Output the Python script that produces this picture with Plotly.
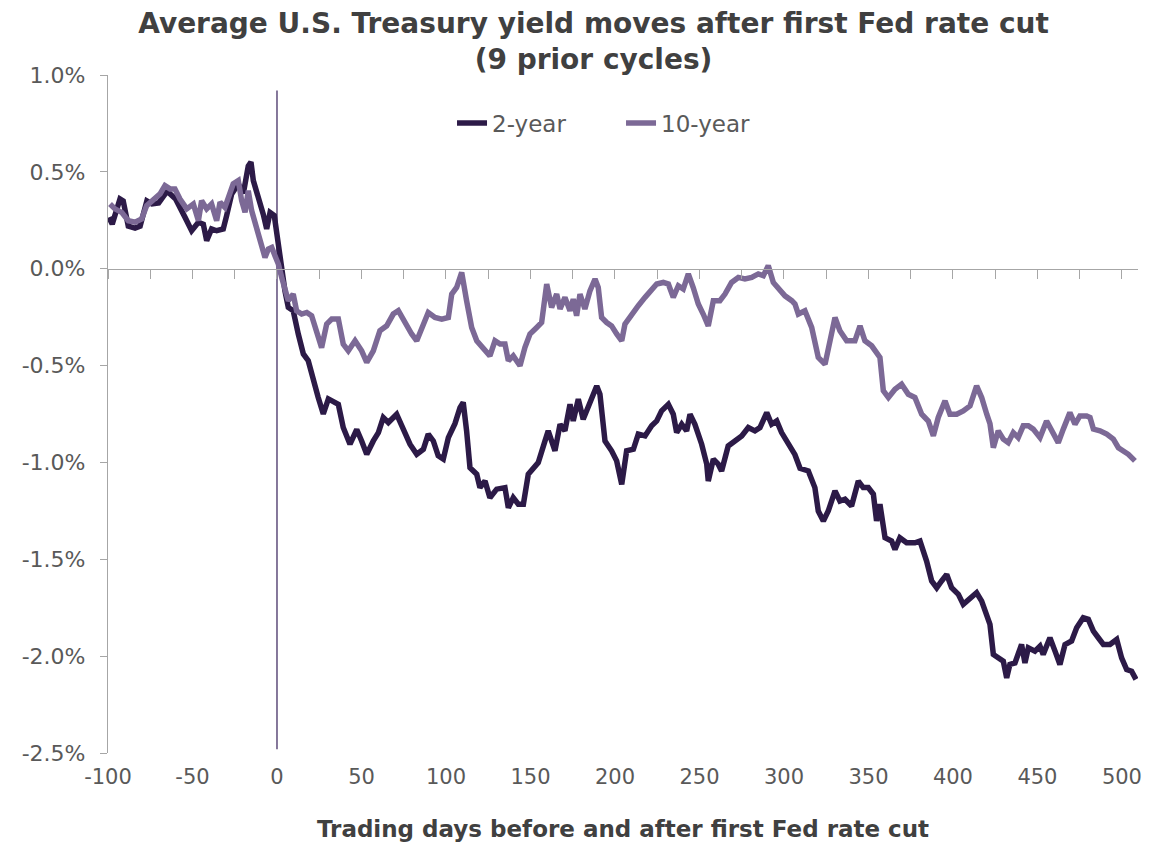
import plotly.graph_objects as go

# ---- Data ----
days_2y = [-99.4, -97.5, -92.9, -91, -88, -84, -81, -77, -74, -70, -65, -60, -54.4, -50.5, -46.5, -43.6,
           -41.6, -38.7, -35.7, -31.8, -29.8, -26.8, -22.9, -19.9, -17, -15.4, -14, -11, -8.1, -6.1, -4.1,
           -1.6, 0.8, 2.8, 4.7, 6.7, 9.6, 12.6, 15.6, 18.5, 21.5, 24.4, 27.4, 30.4, 36.3, 39.2, 43.2, 47.2,
           50.1, 53.1, 57, 60, 62.9, 65.9, 70.8, 74.7, 78.7, 82.7, 86.6, 89.5, 92.5, 95.4, 98.4, 101.4,
           105.3, 108.3, 110.2, 112.2, 114.2, 118.2, 120.1, 123.1, 126, 130, 134.9, 136.9, 139.8, 142.8,
           145.8, 148.7, 151.7, 154.6, 158.6, 160.5, 164.5, 167.5, 170.4, 173.4, 175.3, 178.3, 181.2,
           184.2, 187.2, 189.2, 191.1, 194.1, 198, 201, 204, 206.9, 210.9, 213.8, 217.8, 221.7, 224.7,
           227.6, 231.6, 234.5, 236.5, 239.5, 242.4, 244.4, 247.3, 251.3, 254.3, 255.2, 258.2, 261.1,
           263.1, 267, 271, 275, 278.9, 282.8, 285.8, 289.8, 292.7, 295.7, 298.6, 302.6, 306.5, 309.5,
           314.4, 318.3, 320.3, 323.3, 326.2, 330.2, 333.1, 336.1, 340, 344, 346.9, 349.9, 352.9, 354.8,
           356.8, 359.8, 363.7, 365.7, 368.6, 372.6, 377.5, 380.5, 384.4, 387.4, 390.4, 393.3, 396.3,
           399.2, 403.2, 406.1, 410.1, 414, 417, 420, 421.9, 423.9, 426.8, 429.8, 431.8, 433.7, 436.7,
           440.6, 442.6, 444.6, 448.5, 451.5, 453.4, 457.4, 460.4, 463.3, 466.3, 470.2, 473.2, 477.1,
           480.1, 483.1, 486, 489, 492.9, 496.9, 499.8, 502.8, 505.7, 508.3]
yield_2y = [0.265, 0.23, 0.36, 0.35, 0.22, 0.21, 0.22, 0.35, 0.335, 0.34, 0.40, 0.36, 0.265, 0.196, 0.24,
            0.23, 0.145, 0.205, 0.196, 0.205, 0.274, 0.386, 0.438, 0.39, 0.53, 0.55, 0.455, 0.37, 0.28,
            0.205, 0.29, 0.274, 0.11, 0.007, -0.114, -0.2, -0.217, -0.337, -0.44, -0.475, -0.58, -0.665,
            -0.75, -0.672, -0.70, -0.82, -0.906, -0.83, -0.889, -0.958, -0.889, -0.846, -0.768, -0.794,
            -0.751, -0.82, -0.906, -0.958, -0.932, -0.854, -0.889, -0.966, -0.983, -0.872, -0.80, -0.717,
            -0.69, -0.837, -1.027, -1.061, -1.13, -1.096, -1.182, -1.138, -1.13, -1.234, -1.182, -1.216,
            -1.216, -1.061, -1.027, -1.001, -0.889, -0.837, -0.94, -0.803, -0.837, -0.70, -0.786, -0.673,
            -0.777, -0.717, -0.648, -0.605, -0.648, -0.889, -0.94, -0.992, -1.113, -0.94, -0.932, -0.854,
            -0.863, -0.811, -0.786, -0.734, -0.70, -0.751, -0.846, -0.803, -0.837, -0.751, -0.803, -0.906,
            -1.009, -1.096, -0.983, -1.009, -1.044, -0.915, -0.889, -0.863, -0.82, -0.837, -0.82, -0.743,
            -0.803, -0.786, -0.846, -0.906, -0.96, -1.03, -1.044, -1.13, -1.251, -1.302, -1.251, -1.147,
            -1.199, -1.19, -1.225, -1.096, -1.13, -1.13, -1.164, -1.302, -1.216, -1.389, -1.406, -1.449,
            -1.389, -1.415, -1.415, -1.406, -1.509, -1.612, -1.647, -1.612, -1.578, -1.647, -1.681,
            -1.733, -1.707, -1.673, -1.716, -1.802, -1.836, -1.991, -2.009, -2.026, -2.112, -2.043,
            -2.035, -1.94, -2.035, -1.957, -1.974, -1.948, -1.991, -1.905, -1.974, -2.043, -1.94, -1.922,
            -1.854, -1.802, -1.81, -1.871, -1.905, -1.94, -1.94, -1.914, -2.009, -2.069, -2.078, -2.12]

days_10y = [-98.8, -95.9, -91.9, -88, -84, -80.1, -77.1, -73.2, -69.2, -66.3, -63.3, -60.4, -57.4, -53.4,
            -49.5, -46.5, -44.6, -41.6, -38.7, -35.7, -33.7, -30.8, -27.8, -25.9, -22.9, -20.9, -18.9,
            -17, -15, -13, -11, -9.1, -7.1, -5.1, -3.1, -1.2, 0.8, 2.8, 4.7, 6.7, 9.6, 11.6, 14.6, 17.6,
            20.5, 23.5, 26.4, 29.4, 32.4, 36.3, 39.2, 42.2, 46.2, 50.1, 53.1, 57, 60.9, 64.9, 68.8, 71.8,
            75.7, 79.7, 82.7, 85.6, 89.5, 93.5, 97.5, 101.4, 103.4, 106.3, 109.3, 112.2, 115.2, 118.2,
            122.1, 126, 129, 132, 134.9, 136.9, 139.8, 143.8, 146.7, 149.7, 153.7, 156.6, 159.6, 162.5,
            165.5, 167.5, 170.4, 173.4, 175.3, 177.3, 179.3, 182.2, 185.2, 188.2, 190.1, 192.1, 195.1,
            198, 201, 204, 205.9, 209.9, 213.8, 217.8, 221.7, 224.7, 228.6, 231.6, 234.5, 237.5, 240.4,
            243.4, 246.3, 249.3, 252.2, 255.2, 258.2, 262.1, 265.1, 269, 273, 276.9, 280.9, 284.8, 287.8,
            290.7, 293.7, 296.6, 300.6, 304.6, 306.5, 308.5, 312.4, 316.4, 320.3, 324.3, 327.2, 330.2,
            333.1, 337.1, 342, 345, 347.9, 351.9, 356.8, 358.8, 361.8, 365.7, 369.6, 373.6, 377.5, 381.5,
            385.4, 388.4, 391.3, 395.3, 398.2, 402.2, 406.1, 410.1, 414, 417, 420, 421.9, 423.9, 426.8,
            429.8, 432.7, 435.7, 438.6, 441.6, 444.6, 447.5, 451.5, 455.4, 459.4, 462.3, 465.3, 469.2,
            472.2, 475.1, 479.1, 481.1, 483.1, 487, 491, 494.9, 497.9, 500.8, 503.8, 507.7]
yield_10y = [0.334, 0.309, 0.291, 0.248, 0.24, 0.257, 0.326, 0.36, 0.386, 0.429, 0.412, 0.412, 0.36, 0.309,
             0.334, 0.248, 0.351, 0.309, 0.334, 0.248, 0.343, 0.317, 0.386, 0.438, 0.455, 0.351, 0.291,
             0.403, 0.30, 0.24, 0.17, 0.11, 0.058, 0.102, 0.11, 0.067, 0.024, -0.045, -0.114, -0.165,
             -0.131, -0.217, -0.234, -0.226, -0.243, -0.329, -0.407, -0.286, -0.26, -0.26, -0.389, -0.424,
             -0.372, -0.424, -0.484, -0.424, -0.32, -0.295, -0.234, -0.217, -0.278, -0.337, -0.372, -0.312,
             -0.226, -0.252, -0.26, -0.252, -0.131, -0.097, -0.019, -0.165, -0.303, -0.372, -0.407, -0.45,
             -0.372, -0.389, -0.389, -0.475, -0.45, -0.501, -0.407, -0.337, -0.303, -0.278, -0.079, -0.2,
             -0.131, -0.208, -0.148, -0.217, -0.157, -0.243, -0.131, -0.208, -0.114, -0.053, -0.097,
             -0.252, -0.278, -0.295, -0.337, -0.372, -0.286, -0.234, -0.191, -0.148, -0.105, -0.079,
             -0.071, -0.079, -0.148, -0.088, -0.105, -0.027, -0.097, -0.182, -0.234, -0.295, -0.165,
             -0.165, -0.131, -0.071, -0.045, -0.053, -0.045, -0.027, -0.036, 0.016, -0.071, -0.097, -0.14,
             -0.165, -0.182, -0.234, -0.217, -0.303, -0.458, -0.493, -0.372, -0.252, -0.32, -0.372, -0.372,
             -0.295, -0.372, -0.398, -0.458, -0.63, -0.665, -0.622, -0.596, -0.648, -0.665, -0.751, -0.786,
             -0.863, -0.768, -0.682, -0.751, -0.751, -0.734, -0.708, -0.605, -0.665, -0.751, -0.80, -0.924,
             -0.837, -0.88, -0.898, -0.846, -0.872, -0.811, -0.811, -0.828, -0.872, -0.786, -0.846, -0.898,
             -0.828, -0.743, -0.803, -0.76, -0.76, -0.768, -0.828, -0.837, -0.854, -0.88, -0.924, -0.94,
             -0.958, -0.992]

x_tick_vals = [-100, -50, 0, 50, 100, 150, 200, 250, 300, 350, 400, 450, 500]
x_tick_text = ["-100", "-50", "0", "50", "100", "150", "200", "250", "300", "350", "400", "450", "500"]
y_tick_vals = [-2.5, -2.0, -1.5, -1.0, -0.5, 0.0, 0.5, 1.0]
y_tick_text = ["-2.5%", "-2.0%", "-1.5%", "-1.0%", "-0.5%", "0.0%", "0.5%", "1.0%"]
cut_day = 0

FONT = "DejaVu Sans, Liberation Sans, Arial, sans-serif"
C2 = "#2C1A47"
C10 = "#7C6996"
AXIS = "#A6A6A6"
TXT = "#595959"

fig = go.Figure()
fig.add_trace(go.Scatter(x=days_2y, y=yield_2y, name="2-year", mode="lines",
                         line=dict(color=C2, width=5.5)))
fig.add_trace(go.Scatter(x=days_10y, y=yield_10y, name="10-year", mode="lines",
                         line=dict(color=C10, width=5.5)))
# helper (invisible) trace so the zero-line axis with tick marks is drawn
fig.add_trace(go.Scatter(x=[days_2y[0]], y=[yield_2y[0]], xaxis="x2", mode="none",
                         showlegend=False, hoverinfo="skip"))

fig.add_shape(type="line", xref="x", yref="y", x0=cut_day, x1=cut_day, y0=-2.48, y1=0.92,
              line=dict(color="#5E4B7A", width=1.5), layer="below")

fig.update_layout(
    width=1149, height=834,
    paper_bgcolor="white", plot_bgcolor="white",
    margin=dict(l=100, r=19, t=67, b=89, autoexpand=False),
    font=dict(family=FONT, color=TXT, size=20),
    title=dict(text="<b>Average U.S. Treasury yield moves after first Fed rate cut<br>(9 prior cycles)</b>",
               x=0.5096, xref="container", xanchor="center", y=0.970, yanchor="middle",
               font=dict(family=FONT, size=28, color="#404040")),
    legend=dict(orientation="h", x=0.334, xanchor="left", y=0.929, yanchor="middle",
                font=dict(family=FONT, size=23, color=TXT), bgcolor="rgba(0,0,0,0)",
                entrywidth=124, entrywidthmode="pixels", tracegroupgap=0),
    showlegend=True,
    xaxis=dict(range=[-100, 509.5], tickvals=x_tick_vals, ticktext=x_tick_text,
               showgrid=False, zeroline=False, showline=False, ticks="",
               ticklabelstandoff=9, automargin=False,
               tickfont=dict(family=FONT, size=21, color=TXT),
               title=dict(text="<b>Trading days before and after first Fed rate cut</b>",
                          font=dict(family=FONT, size=23, color="#404040"), standoff=35)),
    xaxis2=dict(overlaying="x", matches="x", anchor="free", position=2.5 / 3.5, side="bottom",
                showline=True, linecolor=AXIS, linewidth=1.2, ticks="outside", tickcolor=AXIS,
                ticklen=9, tickwidth=1.2, tick0=-100, dtick=25, showticklabels=False,
                showgrid=False, zeroline=False, automargin=False),
    yaxis=dict(range=[-2.5, 1.0], tickvals=y_tick_vals, ticktext=y_tick_text,
               showgrid=False, zeroline=False, showline=True, linecolor=AXIS, linewidth=1.2,
               ticks="outside", tickcolor=AXIS, ticklen=7, tickwidth=1.2,
               ticklabelstandoff=10, automargin=False,
               tickfont=dict(family=FONT, size=22, color=TXT)),
)

fig.write_html("out.html")
